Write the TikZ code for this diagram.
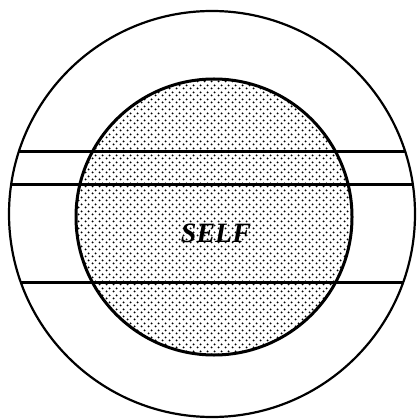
\documentclass[tikz,border=0pt]{standalone}
\usepackage{fontspec}
\newfontfamily\selffont{Liberation Serif}
\usetikzlibrary{patterns.meta}
\tikzdeclarepattern{
  name=selfdots,
  type=uncolored,
  bottom left={(0pt,0pt)},
  top right={(7pt,7pt)},
  tile size={(7pt,7pt)},
  code={\fill (1.75pt,1.75pt) circle (1.15pt); \fill (5.25pt,5.25pt) circle (1.15pt);}
}
\tikzset{
  rim/.style={draw=black, line width=2.2pt},
  core/.style={draw=black, line width=3pt, pattern=selfdots, pattern color=black},
  band/.style={draw=black, line width=3pt},
  tag/.style={font=\selffont\fontsize{28}{33}\selectfont\bfseries\itshape, inner sep=1pt},
}
\begin{document}
\begin{tikzpicture}[x=1pt, y=-1pt]
  \useasboundingbox (0,0) rectangle (417,419);
  \coordinate (world) at (212,214);
  \coordinate (me) at (214,217);
  % shaded self
  \draw[core] (me) circle (138);
  % bands, cut at the outer rim
  \begin{scope}
    \clip (world) circle (203);
    \foreach \yy in {152,185,282} \draw[band] (0,\yy) -- (417,\yy);
  \end{scope}
  \draw[rim] (world) circle (203);
  \node[tag] (self) at (216,233) {SELF};
\end{tikzpicture}
\end{document}
